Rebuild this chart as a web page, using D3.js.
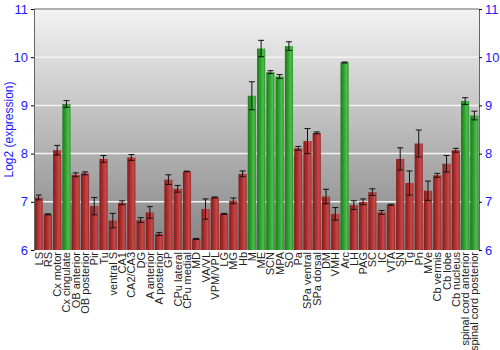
<!DOCTYPE html>
<html>
<head>
<meta charset="utf-8">
<script src="https://cdn.jsdelivr.net/npm/d3@7"></script>
<style>
  body { margin: 0; background: #fff; }
  svg { font-family: "Liberation Sans", Arial, sans-serif; }
</style>
</head>
<body>
<svg width="500" height="350"></svg>
<script>
// regions on the x axis
const regions = ["LS", "RS", "Cx motor", "Cx cingulate", "OB anterior", "OB posterior", "Pir", "Tu",
  "ventral S", "CA1", "CA2/CA3", "DG", "A anterior", "A posterior", "GP", "CPu lateral", "CPu medial",
  "MD", "VA/VL", "VPM/VPL", "LG", "MG", "Hb", "M", "ME", "SCN", "MPA", "SO", "Pa", "SPa ventral",
  "SPa dorsal", "DM", "VMH", "Arc", "LH", "PAG", "SC", "IC", "VTA", "SN", "Tg", "Pn", "MVe",
  "Cb vermis", "Cb lobe", "Cb nucleus", "spinal cord anterior", "spinal cord posterior"];

// log2 expression values
const values = [7.09, 6.74, 8.07, 9.03, 7.56, 7.59, 6.91, 7.89,
  6.61, 6.98, 7.92, 6.62, 6.78, 6.33, 7.46, 7.27, 7.63,
  6.23, 6.85, 7.09, 6.75, 7.02, 7.58, 9.20, 10.18, 9.69, 9.60, 10.23, 8.11, 8.26,
  8.43, 7.11, 6.75, 9.89, 6.93, 7.00, 7.20, 6.78, 6.94, 7.89, 7.39, 8.21, 7.23,
  7.55, 7.79, 8.07, 9.09, 8.79];

// error bar half-widths
const errors = [0.05, 0.01, 0.10, 0.07, 0.04, 0.03, 0.18, 0.07,
  0.15, 0.04, 0.06, 0.05, 0.12, 0.03, 0.10, 0.07, 0.005,
  0.01, 0.21, 0.01, 0.01, 0.06, 0.06, 0.29, 0.17, 0.03, 0.04, 0.09, 0.04, 0.26,
  0.02, 0.15, 0.13, 0.01, 0.09, 0.06, 0.07, 0.04, 0.01, 0.23, 0.25, 0.28, 0.20,
  0.04, 0.17, 0.04, 0.07, 0.09];

// which bars are drawn green
const greenRegions = ["Cx cingulate", "M", "ME", "SCN", "MPA", "SO", "Arc",
  "spinal cord anterior", "spinal cord posterior"];

const yTicks = [6, 7, 8, 9, 10, 11];

const svg = d3.select("svg");
const plotL = 34, plotR = 479, plotT = 9, plotB = 250;

const x = d3.scaleBand().domain(regions).range([plotL, plotR]).paddingInner(0.12).paddingOuter(0.06);
const y = d3.scaleLinear().domain([6, 11]).range([plotB, plotT]);

const defs = svg.append("defs");
const bg = defs.append("linearGradient").attr("id", "bg")
  .attr("x1", 0).attr("y1", 0).attr("x2", 0).attr("y2", 1);
bg.append("stop").attr("offset", "0%").attr("stop-color", "#f3f3f3");
bg.append("stop").attr("offset", "100%").attr("stop-color", "#838383");

function barGrad(id, c0, c1, c2, c3) {
  const g = defs.append("linearGradient").attr("id", id)
    .attr("x1", 0).attr("y1", 0).attr("x2", 1).attr("y2", 0);
  g.append("stop").attr("offset", "0%").attr("stop-color", c0);
  g.append("stop").attr("offset", "35%").attr("stop-color", c1);
  g.append("stop").attr("offset", "75%").attr("stop-color", c2);
  g.append("stop").attr("offset", "100%").attr("stop-color", c3);
}
barGrad("red", "#7e1c1c", "#a92c2c", "#c54a4a", "#9a2a2a");
barGrad("green", "#1c7a1c", "#2c9a2c", "#4cc04c", "#2e8f2e");

svg.append("rect")
  .attr("x", plotL).attr("y", plotT)
  .attr("width", plotR - plotL).attr("height", plotB - plotT)
  .style("fill", "url(#bg)");

// grid lines
svg.selectAll(".grid")
  .data(yTicks.filter(d => d > 6 && d < 11))
  .enter().append("line")
  .attr("x1", plotL).attr("x2", plotR)
  .attr("y1", d => y(d)).attr("y2", d => y(d))
  .style("stroke", "#f4f4f4")
  .style("stroke-width", 1.5);

// bars
const data = regions.map((r, i) => ({ r: r, v: values[i], e: errors[i] }));

svg.selectAll(".bar")
  .data(data)
  .enter().append("rect")
  .attr("x", d => x(d.r))
  .attr("y", d => y(d.v))
  .attr("width", x.bandwidth())
  .attr("height", d => plotB - y(d.v))
  .style("fill", d => greenRegions.includes(d.r) ? "url(#green)" : "url(#red)");

// error bars
const eb = svg.selectAll(".err").data(data).enter().append("g");
eb.append("line")
  .attr("x1", d => x(d.r) + x.bandwidth() / 2)
  .attr("x2", d => x(d.r) + x.bandwidth() / 2)
  .attr("y1", d => y(d.v + d.e)).attr("y2", d => y(d.v - d.e))
  .style("stroke", "#111").style("stroke-width", 1);
[1, -1].forEach(s => {
  eb.append("line")
    .attr("x1", d => x(d.r) + x.bandwidth() / 2 - 3)
    .attr("x2", d => x(d.r) + x.bandwidth() / 2 + 3)
    .attr("y1", d => y(d.v + s * d.e)).attr("y2", d => y(d.v + s * d.e))
    .style("stroke", "#111").style("stroke-width", 1);
});

// frame
svg.append("line").attr("x1", plotL).attr("x2", plotR).attr("y1", plotT).attr("y2", plotT)
  .style("stroke", "#666");

const yl = svg.append("g").attr("transform", `translate(${plotL},0)`)
  .call(d3.axisLeft(y).tickValues(yTicks).tickSize(3).tickFormat(d3.format("d")));
const yr = svg.append("g").attr("transform", `translate(${plotR},0)`)
  .call(d3.axisRight(y).tickValues(yTicks).tickSize(3).tickFormat(d3.format("d")));
[yl, yr].forEach(a => {
  a.select(".domain").style("stroke", "#666");
  a.selectAll(".tick line").style("stroke", "#000");
  a.selectAll(".tick text").style("fill", "#1a1aff").style("font-size", "13px")
    .style("font-family", "Liberation Sans, Arial, sans-serif");
});

svg.append("text")
  .attr("transform", `translate(13,${(plotT + plotB) / 2}) rotate(-90)`)
  .attr("text-anchor", "middle")
  .style("fill", "#1a1aff")
  .style("font-size", "12px")
  .text("Log2 (expression)");

// x labels
svg.selectAll(".xl")
  .data(regions)
  .enter().append("text")
  .attr("transform", d => `translate(${x(d) + x.bandwidth() / 2 + 4},${plotB + 2}) rotate(-90)`)
  .attr("text-anchor", "end")
  .style("font-size", "11px")
  .style("fill", "#222")
  .text(d => d);
</script>
</body>
</html>
